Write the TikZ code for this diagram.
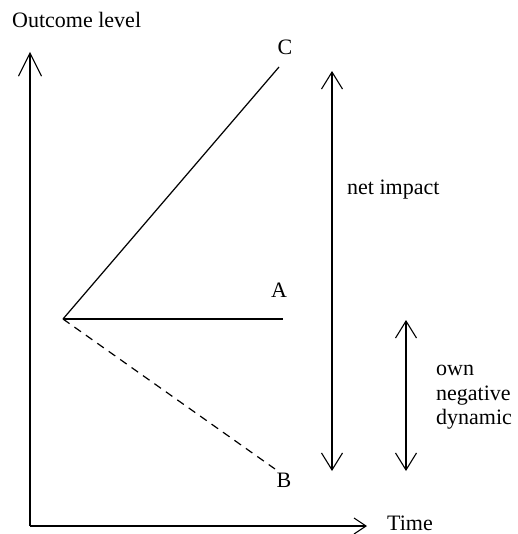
\documentclass[tikz,border=0pt]{standalone}
\usepackage{fontspec}
\setmainfont{Liberation Serif}
\usetikzlibrary{arrows.meta}
\begin{document}
\begin{tikzpicture}[x=1pt,y=-1pt,
  line/.style={line width=1.2pt,black},
  vbarb/.style={line width=1.2pt,{Straight Barb[length=17pt,width=21pt,line width=1.1pt]}-{Straight Barb[length=17pt,width=21pt,line width=1.1pt]}},
  lbl/.style={inner sep=0pt,font=\fontsize{22}{25}\selectfont}]
\useasboundingbox (0,0) rectangle (517,534);
% axes
\coordinate (orig) at (30,526);
\coordinate (ytop) at (30,52);
\coordinate (xend) at (367,526);
\draw[line,-{Straight Barb[length=23pt,width=23pt,line width=1.1pt]}] (orig) -- (ytop);
\draw[line,-{Straight Barb[length=12pt,width=16pt,line width=1.1pt]}] (orig) -- (xend);
\node[lbl,anchor=base west] (ylab) at (12,28) {Outcome level};
\node[lbl,anchor=base west] (xlab) at (387,530) {Time};
% lines
\coordinate (O) at (63,319);
\coordinate (Cend) at (279,67);
\coordinate (Aend) at (283,319);
\coordinate (Bend) at (275,469);
\draw[line] (O) -- (Cend);
\draw[line] (O) -- (Aend);
\draw[line,dash pattern=on 8pt off 6pt] (O) -- (Bend);
\node[lbl] (C) at (285,47) {C};
\node[lbl] (A) at (279,290) {A};
\node[lbl] (B) at (284,480) {B};
% arrows
\coordinate (n1) at (332,71);
\coordinate (n2) at (332,471);
\coordinate (d1) at (406,320);
\coordinate (d2) at (406,471);
\draw[vbarb] (n2) -- (n1);
\draw[vbarb] (d2) -- (d1);
\node[lbl,anchor=base west] (net) at (347,195) {net impact};
\node[lbl,anchor=base west] (own) at (436,375) {own};
\node[lbl,anchor=base west] (neg) at (436,400) {negative};
\node[lbl,anchor=base west] (dyn) at (436,424) {dynamic};
\end{tikzpicture}
\end{document}
